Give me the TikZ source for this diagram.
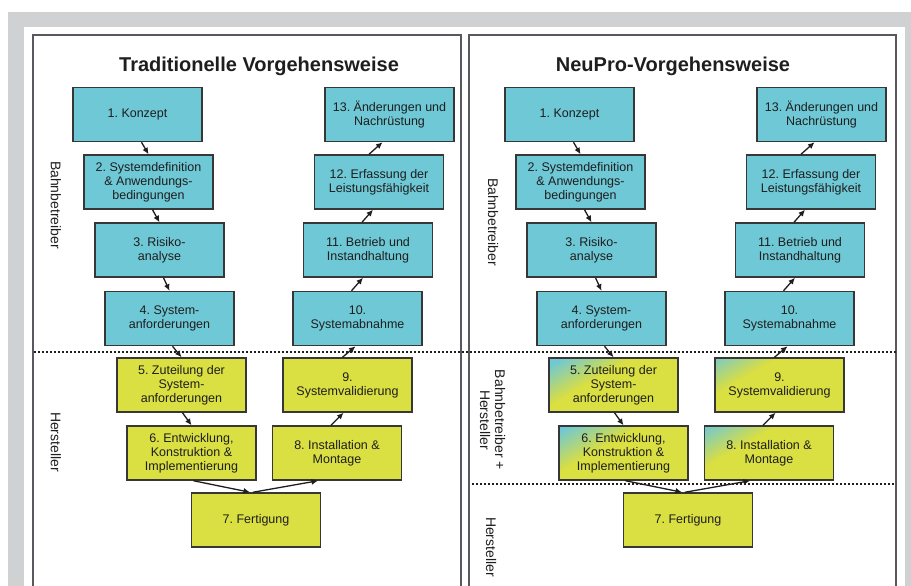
\documentclass[tikz,border=0pt]{standalone}
\usepackage{fontspec}
\setmainfont{Liberation Sans}
\usetikzlibrary{arrows.meta}
\frenchspacing

\definecolor{bahn}{RGB}{110,200,214}
\definecolor{herst}{RGB}{218,223,66}
\definecolor{framegrey}{RGB}{208,209,211}
\definecolor{panelline}{RGB}{88,88,94}
\definecolor{edge}{RGB}{55,55,55}
\definecolor{ink}{RGB}{30,30,30}

% diagonal blend: cyan in the upper left corner fading into yellow
\newcommand\mixgrad{%
  \begin{scope}[shift={(path picture bounding box.center)}]
    \foreach \p in {-70,-68,...,68} {
      \pgfmathsetmacro\q{\p+2.6}
      \pgfmathsetmacro\t{max(0,min(100,(\p-6)*100/36))}
      \fill[bahn!\t!herst]
        ({-0.5*\p+0.866*80},{-0.866*\p-0.5*80}) --
        ({-0.5*\p-0.866*80},{-0.866*\p+0.5*80}) --
        ({-0.5*\q-0.866*80},{-0.866*\q+0.5*80}) --
        ({-0.5*\q+0.866*80},{-0.866*\q-0.5*80}) -- cycle;
    }
  \end{scope}}

\tikzset{
  box/.style={draw=edge, line width=1.5pt, minimum width=129pt, minimum height=54pt,
    inner sep=0pt, align=center, text=ink, font=\fontsize{12.5}{14}\selectfont},
  bb/.style={box, fill=bahn},
  hs/.style={box, fill=herst},
  mx/.style={box, fill=herst, path picture={\mixgrad}},
  arr/.style={draw=ink, line width=1.3pt, -{Latex[length=6.5pt,width=6pt]}},
  role/.style={rotate=-90, align=center, text=ink, font=\fontsize{14}{15}\selectfont},
  headline/.style={anchor=base, text=ink, font=\fontsize{20}{24}\selectfont\bfseries},
  panel/.style={draw=panelline, line width=2pt},
  sep/.style={draw=ink, line width=2.5pt, dash pattern=on 2.2pt off 1.8pt}
}

% one V-model: #1 name prefix, #2 style of the shared boxes 5, 6, 8, 9
\newcommand\vpanel[2]{%
  \node[bb] (#1n1)  at (137.5,114.5) {1. Konzept};
  \node[bb] (#1n2)  at (148.5,182)   {2. Systemdefinition\\\& Anwendungs-\\bedingungen};
  \node[bb] (#1n3)  at (159.5,250)   {3. Risiko-\\analyse};
  \node[bb] (#1n4)  at (169.5,318.5) {4. System-\\anforderungen};
  \node[#2] (#1n5)  at (181.5,385)   {5. Zuteilung der\\System-\\anforderungen};
  \node[#2] (#1n6)  at (191.5,453)   {6. Entwicklung,\\Konstruktion \&\\Implementierung};
  \node[hs] (#1n7)  at (256,520)     {7. Fertigung};
  \node[#2] (#1n8)  at (337,453)     {8. Installation \&\\Montage};
  \node[#2] (#1n9)  at (347.5,385)   {9.\\Systemvalidierung};
  \node[bb] (#1n10) at (357.5,318.5) {10.\\Systemabnahme};
  \node[bb] (#1n11) at (368,250)     {11. Betrieb und\\Instandhaltung};
  \node[bb] (#1n12) at (379,182)     {12. Erfassung der\\Leistungsfähigkeit};
  \node[bb] (#1n13) at (389.5,114.5) {13. Änderungen und\\Nachrüstung};
  \draw[arr] ([xshift=4pt]#1n1.south) -- (#1n2.north);
  \draw[arr] ([xshift=4pt]#1n2.south) -- (#1n3.north);
  \draw[arr] ([xshift=4pt]#1n3.south) -- (#1n4.north);
  \draw[arr] ([xshift=3pt]#1n4.south) -- (#1n5.north);
  \draw[arr] ([xshift=1pt]#1n5.south) -- (#1n6.north);
  \draw[arr] ([xshift=2pt]#1n6.south) -- ([xshift=-6pt]#1n7.north);
  \draw[arr] ([xshift=-3pt]#1n7.north) -- ([xshift=-19pt]#1n8.south);
  \draw[arr] ([xshift=-6pt]#1n8.north) -- ([xshift=-4pt]#1n9.south);
  \draw[arr] ([xshift=-5pt]#1n9.north) -- ([xshift=-2pt]#1n10.south);
  \draw[arr] ([xshift=-6pt]#1n10.north) -- ([xshift=-5pt]#1n11.south);
  \draw[arr] ([xshift=-6pt]#1n11.north) -- ([xshift=-6pt]#1n12.south);
  \draw[arr] ([xshift=-10pt]#1n12.north) -- ([xshift=-7pt]#1n13.south);
}

\begin{document}
\begin{tikzpicture}[x=1pt,y=-1pt]
  \clip (0,0) rectangle (911,586);
  \fill[white] (0,0) rectangle (911,586);
  % grey frame around the figure
  \fill[framegrey] (8,12) rectangle (920,600);
  \fill[white] (24,27) rectangle (905,600);

  % the two panels
  \draw[panel] (33,35) rectangle (461,600);
  \draw[panel] (469,35) rectangle (896,600);

  % responsibility boundaries
  \draw[sep] (34,352) -- (896,352);
  \draw[sep] (472,484) -- (896,484);

  \node[headline] (t1) at (259,71.5) {Traditionelle Vorgehensweise};
  \node[headline] (t2) at (673,71.5) {NeuPro-Vorgehensweise};

  \node[role] (l1) at (56,205) {Bahnbetreiber};
  \node[role] (l2) at (56,442) {Hersteller};
  \node[role] (r1) at (493,222) {Bahnbetreiber};
  \node[role] (r2) at (492.5,420) {Bahnbetreiber +\\Hersteller};
  \node[role] (r3) at (491,547) {Hersteller};

  \vpanel{L}{hs}
  \begin{scope}[xshift=432pt]
    \vpanel{R}{mx}
  \end{scope}
\end{tikzpicture}
\end{document}
